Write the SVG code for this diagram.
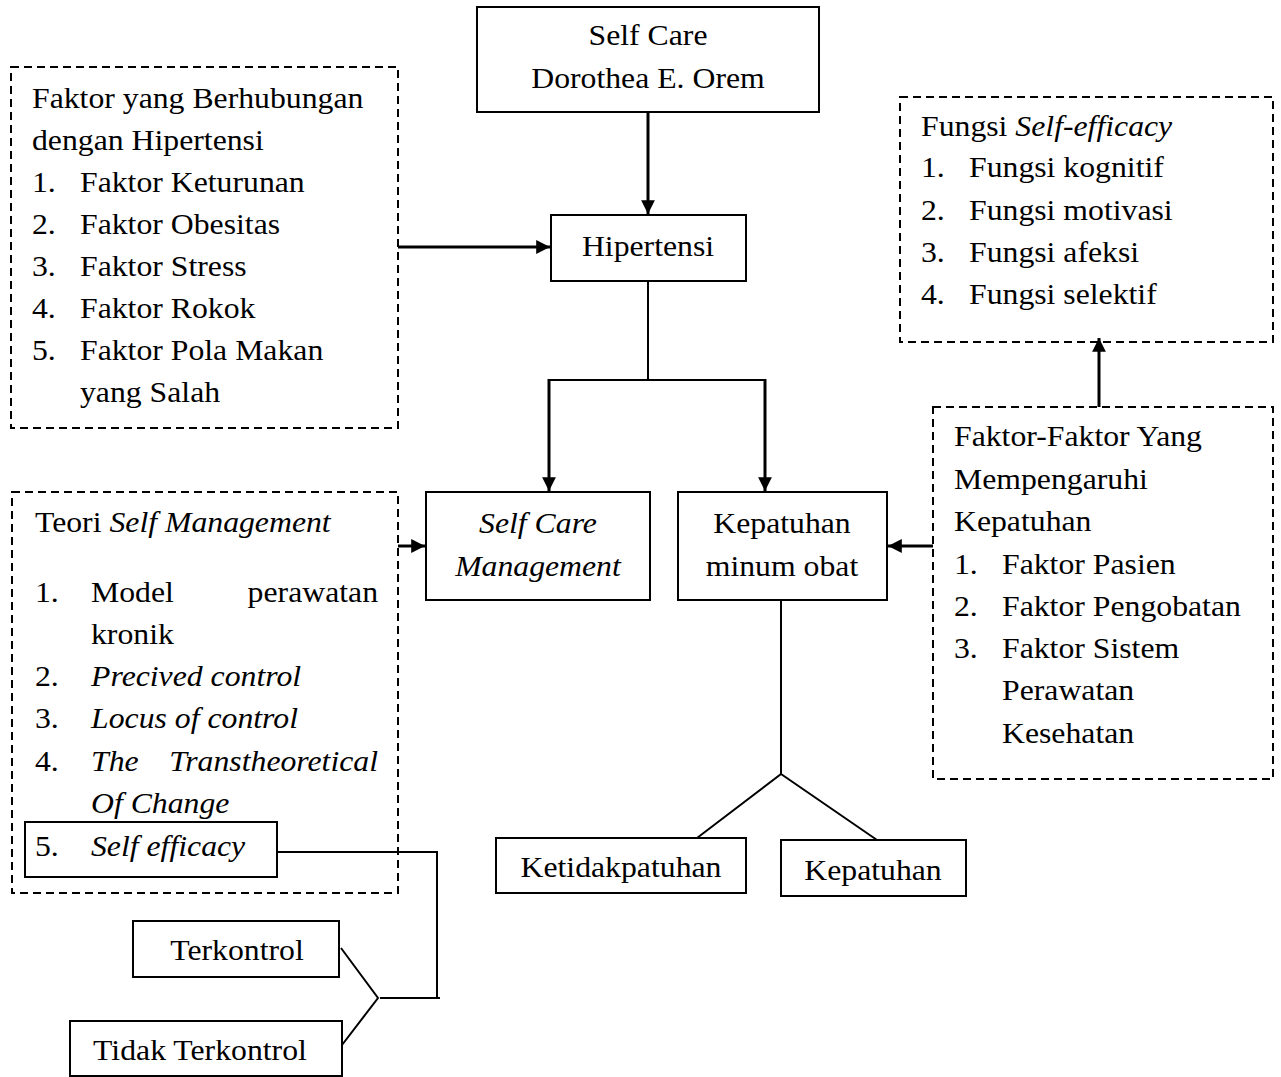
<svg xmlns="http://www.w3.org/2000/svg" width="1281" height="1077" viewBox="0 0 1281 1077">
  <defs>
    <style>
      text { font-family: "Liberation Serif", "Times New Roman", serif; font-size: 29px; fill: #000;
             transform-box: fill-box; transform-origin: 0% 50%; transform: scaleX(1.095); }
      .c { text-anchor: middle; transform-origin: 50% 50%; }
      .e { text-anchor: end; transform-origin: 100% 50%; }
      .i { font-style: italic; }
      .box { fill: #fff; stroke: #000; stroke-width: 2; }
      .dash { fill: none; stroke: #000; stroke-width: 2; stroke-dasharray: 8 5; }
      .ln { fill: none; stroke: #000; stroke-width: 2; }
      .arr { fill: none; stroke: #000; stroke-width: 3; marker-end: url(#ah); }
    </style>
    <marker id="ah" viewBox="0 0 10 10" refX="10" refY="5" markerWidth="4.6" markerHeight="4.6" markerUnits="strokeWidth" orient="auto">
      <path d="M0,0 L10,5 L0,10 z" fill="#000"/>
    </marker>
  </defs>
  <rect width="1281" height="1077" fill="#fff"/>

  <!-- connectors -->
  <g id="connectors">
    <path class="arr" d="M648,112 V214"/>
    <path class="arr" d="M398,247 H550"/>
    <path class="ln" d="M648,281 V380 M549,380 H765"/>
    <path class="arr" d="M549,379 V491"/>
    <path class="arr" d="M765,379 V491"/>
    <path class="arr" d="M398,546 H425"/>
    <path class="arr" d="M933,546 H888"/>
    <path class="arr" d="M1099,407 V338"/>
    <path class="ln" d="M781,600 V774 L697,838 M781,774 L877,840"/>
    <path class="ln" d="M277,852 H437 V998 M380,998 H440 M341,948 L378,998 L342,1045"/>
  </g>

  <!-- Self Care - Orem -->
  <g id="self-care">
    <rect class="box" x="477" y="7" width="342" height="105"/>
    <text class="c" x="648" y="45">Self Care</text>
    <text class="c" x="648" y="88">Dorothea E. Orem</text>
  </g>

  <!-- Hipertensi -->
  <g id="hipertensi">
    <rect class="box" x="551" y="215" width="195" height="66"/>
    <text class="c" x="648" y="256">Hipertensi</text>
  </g>

  <!-- Faktor yang berhubungan dengan hipertensi -->
  <g id="faktor-hipertensi">
    <rect class="dash" x="11" y="67" width="387" height="361"/>
    <text x="32" y="108">Faktor yang Berhubungan</text>
    <text x="32" y="150">dengan Hipertensi</text>
    <text x="32" y="192">1.</text><text x="80" y="192">Faktor Keturunan</text>
    <text x="32" y="234">2.</text><text x="80" y="234">Faktor Obesitas</text>
    <text x="32" y="276">3.</text><text x="80" y="276">Faktor Stress</text>
    <text x="32" y="318">4.</text><text x="80" y="318">Faktor Rokok</text>
    <text x="32" y="360">5.</text><text x="80" y="360">Faktor Pola Makan</text>
    <text x="80" y="402">yang Salah</text>
  </g>

  <!-- Fungsi self-efficacy -->
  <g id="fungsi-self-efficacy">
    <rect class="dash" x="900" y="97" width="373" height="245"/>
    <text x="921" y="136">Fungsi <tspan class="i">Self-efficacy</tspan></text>
    <text x="921" y="177">1.</text><text x="969" y="177">Fungsi kognitif</text>
    <text x="921" y="220">2.</text><text x="969" y="220">Fungsi motivasi</text>
    <text x="921" y="262">3.</text><text x="969" y="262">Fungsi afeksi</text>
    <text x="921" y="304">4.</text><text x="969" y="304">Fungsi selektif</text>
  </g>

  <!-- Faktor yang mempengaruhi kepatuhan -->
  <g id="faktor-kepatuhan">
    <rect class="dash" x="933" y="407" width="340" height="372"/>
    <text x="954" y="446">Faktor-Faktor Yang</text>
    <text x="954" y="489">Mempengaruhi</text>
    <text x="954" y="531">Kepatuhan</text>
    <text x="954" y="574">1.</text><text x="1002" y="574">Faktor Pasien</text>
    <text x="954" y="616">2.</text><text x="1002" y="616">Faktor Pengobatan</text>
    <text x="954" y="658">3.</text><text x="1002" y="658">Faktor Sistem</text>
    <text x="1002" y="700">Perawatan</text>
    <text x="1002" y="743">Kesehatan</text>
  </g>

  <!-- Teori self management -->
  <g id="teori-self-management">
    <rect class="dash" x="12" y="492" width="386" height="401"/>
    <text x="35" y="532">Teori <tspan class="i">Self Management</tspan></text>
    <text x="35" y="602">1.</text><text x="91" y="602">Model</text><text class="e" x="378" y="602">perawatan</text>
    <text x="91" y="644">kronik</text>
    <text x="35" y="686">2.</text><text class="i" x="91" y="686">Precived control</text>
    <text x="35" y="728">3.</text><text class="i" x="91" y="728">Locus of control</text>
    <text x="35" y="771">4.</text><text class="i" x="91" y="771">The</text><text class="i e" x="378" y="771">Transtheoretical</text>
    <text class="i" x="91" y="813">Of Change</text>
  </g>

  <!-- Self efficacy -->
  <g id="self-efficacy">
    <rect class="box" x="25" y="822" width="252" height="55"/>
    <text x="35" y="856">5.</text><text class="i" x="91" y="856">Self efficacy</text>
  </g>

  <!-- Self care management -->
  <g id="self-care-management">
    <rect class="box" x="426" y="492" width="224" height="108"/>
    <text class="c i" x="538" y="533">Self Care</text>
    <text class="c i" x="538" y="576">Management</text>
  </g>

  <!-- Kepatuhan minum obat -->
  <g id="kepatuhan-minum-obat">
    <rect class="box" x="678" y="492" width="209" height="108"/>
    <text class="c" x="782" y="533">Kepatuhan</text>
    <text class="c" x="782" y="576">minum obat</text>
  </g>

  <!-- Ketidakpatuhan -->
  <g id="ketidakpatuhan">
    <rect class="box" x="496" y="838" width="250" height="55"/>
    <text class="c" x="621" y="877">Ketidakpatuhan</text>
  </g>

  <!-- Kepatuhan -->
  <g id="kepatuhan">
    <rect class="box" x="781" y="840" width="185" height="56"/>
    <text class="c" x="873" y="880">Kepatuhan</text>
  </g>

  <!-- Terkontrol -->
  <g id="terkontrol">
    <rect class="box" x="133" y="921" width="206" height="56"/>
    <text class="c" x="237" y="960">Terkontrol</text>
  </g>

  <!-- Tidak terkontrol -->
  <g id="tidak-terkontrol">
    <rect class="box" x="70" y="1021" width="272" height="55"/>
    <text class="c" x="200" y="1060">Tidak Terkontrol</text>
  </g>
</svg>
